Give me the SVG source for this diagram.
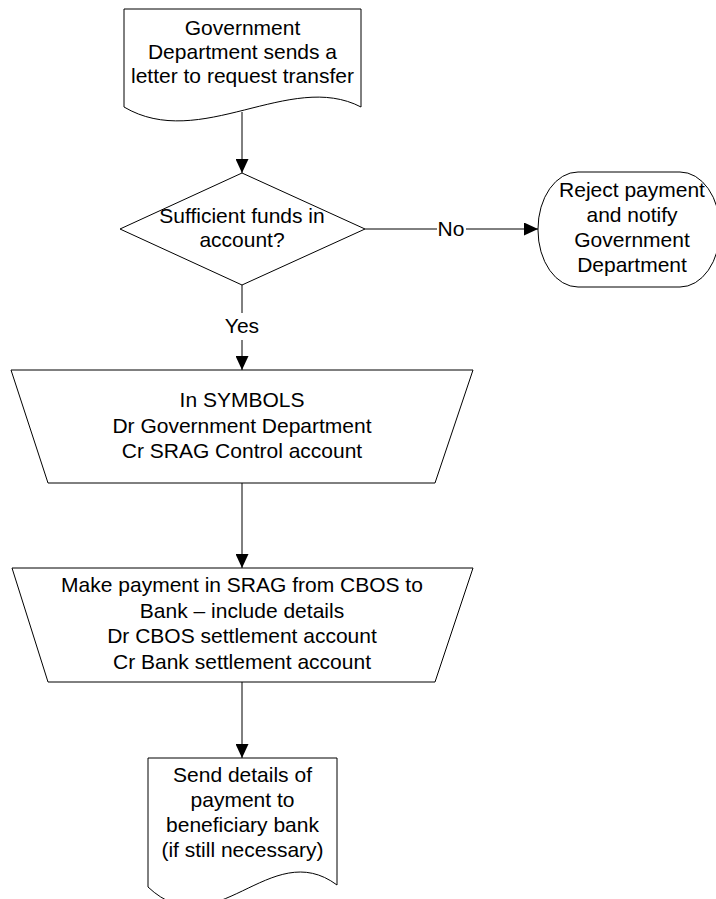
<svg xmlns="http://www.w3.org/2000/svg" width="716" height="899" viewBox="0 0 716 899">
  <defs>
    <marker id="arrow" markerUnits="userSpaceOnUse" markerWidth="14" markerHeight="13" refX="14" refY="6.5" orient="auto">
      <path d="M0,0 L14,6.5 L0,13 Z" fill="#000"/>
    </marker>
    <style>
      .shape { fill: #fff; stroke: #000; stroke-width: 1; }
      .edge { fill: none; stroke: #000; stroke-width: 1; }
      text { font-family: "Liberation Sans", Arial, sans-serif; font-size: 21px; fill: #000; text-anchor: middle; }
    </style>
  </defs>

  <rect width="716" height="899" fill="#fff"/>

  <!-- connectors -->
  <g id="connectors">
    <line class="edge" x1="242" y1="112" x2="242" y2="173" marker-end="url(#arrow)"/>
    <line class="edge" x1="365" y1="229" x2="437" y2="229"/>
    <line class="edge" x1="466" y1="229" x2="538" y2="229" marker-end="url(#arrow)"/>
    <text x="451" y="236">No</text>
    <line class="edge" x1="242" y1="285" x2="242" y2="313"/>
    <line class="edge" x1="242" y1="340" x2="242" y2="370" marker-end="url(#arrow)"/>
    <text x="242" y="333">Yes</text>
    <line class="edge" x1="242" y1="483" x2="242" y2="568" marker-end="url(#arrow)"/>
    <line class="edge" x1="242" y1="682" x2="242" y2="758" marker-end="url(#arrow)"/>
  </g>

  <!-- letter from the department -->
  <g id="request-letter">
    <path class="shape" d="M124,9 H361 V107 C290,70 200,152 124,107 Z"/>
    <text x="242.5" y="35">Government</text>
    <text x="242.5" y="59">Department sends a</text>
    <text x="242.5" y="83">letter to request transfer</text>
  </g>

  <!-- funds check -->
  <g id="funds-check">
    <path class="shape" d="M242,173 L365,229 L242,285 L120,229 Z"/>
    <text x="242" y="223">Sufficient funds in</text>
    <text x="242" y="247">account?</text>
  </g>

  <!-- rejection -->
  <g id="reject">
    <rect class="shape" x="538" y="172" width="182" height="115" rx="40" ry="57"/>
    <text x="632" y="197">Reject payment</text>
    <text x="632" y="222">and notify</text>
    <text x="632" y="247">Government</text>
    <text x="632" y="272">Department</text>
  </g>

  <!-- booking in SYMBOLS -->
  <g id="symbols-entry">
    <path class="shape" d="M11,370 L473,370 L435,483 L48,483 Z"/>
    <text x="242" y="407">In SYMBOLS</text>
    <text x="242" y="433">Dr Government Department</text>
    <text x="242" y="458">Cr SRAG Control account</text>
  </g>

  <!-- SRAG payment -->
  <g id="srag-payment">
    <path class="shape" d="M12,568 L473,568 L435,682 L48,682 Z"/>
    <text x="242" y="592">Make payment in SRAG from CBOS to</text>
    <text x="242" y="618">Bank – include details</text>
    <text x="242" y="643">Dr CBOS settlement account</text>
    <text x="242" y="669">Cr Bank settlement account</text>
  </g>

  <!-- advice to beneficiary bank -->
  <g id="beneficiary-advice">
    <path class="shape" d="M148,758 H337 V885 C270,835 215,950 148,887 Z"/>
    <text x="242.5" y="782">Send details of</text>
    <text x="242.5" y="807">payment to</text>
    <text x="242.5" y="832">beneficiary bank</text>
    <text x="242.5" y="857">(if still necessary)</text>
  </g>
</svg>
